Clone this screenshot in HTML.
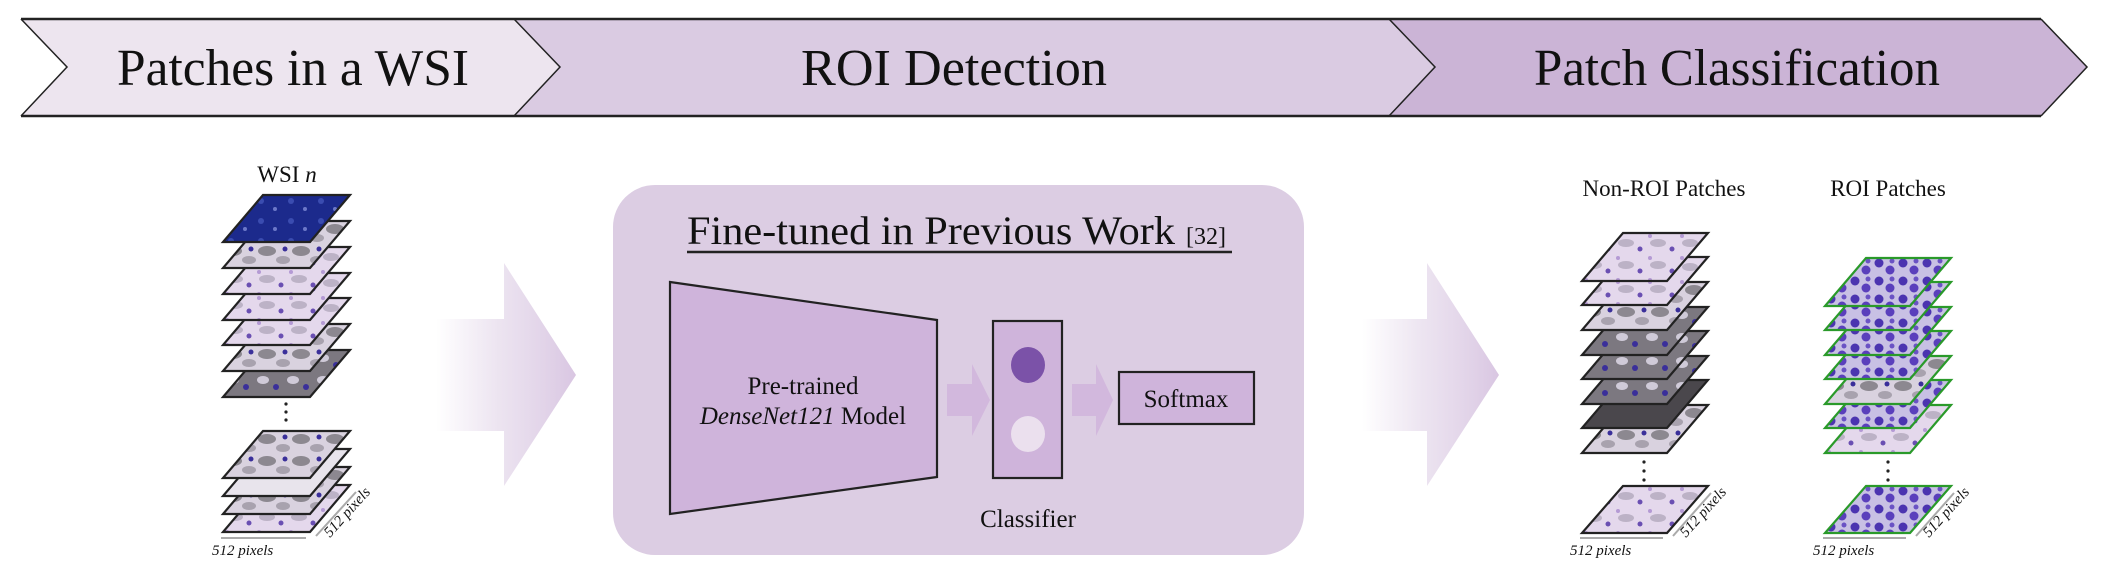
<!DOCTYPE html>
<html><head><meta charset="utf-8"><style>
html,body{margin:0;padding:0;background:#fff;}
svg{display:block;}
text{font-family:"Liberation Serif",serif;fill:#111;}
</style></head><body>
<svg width="2112" height="582" viewBox="0 0 2112 582" xmlns="http://www.w3.org/2000/svg">
<defs>
<linearGradient id="ga" x1="0" x2="1" y1="0" y2="0">
<stop offset="0" stop-color="#e4d8ea" stop-opacity="0"/><stop offset="0.45" stop-color="#e4d8ea" stop-opacity="0.7"/><stop offset="1" stop-color="#d9c6e2"/></linearGradient>
<pattern id="pb" patternUnits="userSpaceOnUse" width="30" height="20"><rect width="30" height="20" fill="#1c2a8c"/><circle cx="8" cy="6" r="3" fill="#3a4cb0"/><circle cx="22" cy="14" r="2" fill="#6c78c8"/></pattern>
<pattern id="pg" patternUnits="userSpaceOnUse" width="34" height="22"><rect width="34" height="22" fill="#d9d2df"/><ellipse cx="10" cy="8" rx="9" ry="5" fill="#8c8890"/><ellipse cx="26" cy="17" rx="7" ry="4" fill="#a8a2ae"/><circle cx="28" cy="6" r="2.5" fill="#3a2f9a"/></pattern>
<pattern id="pl" patternUnits="userSpaceOnUse" width="32" height="22"><rect width="32" height="22" fill="#e4d8ec"/><ellipse cx="12" cy="10" rx="8" ry="4" fill="#bcb2c6"/><circle cx="26" cy="16" r="2.5" fill="#6a4fb2"/><circle cx="4" cy="3" r="2" fill="#b49ad4"/></pattern>
<pattern id="pd" patternUnits="userSpaceOnUse" width="30" height="22"><rect width="30" height="22" fill="#7c7880"/><ellipse cx="10" cy="8" rx="6" ry="4" fill="#cfcad8"/><circle cx="23" cy="15" r="3" fill="#3a2f9a"/></pattern>
<pattern id="pr" patternUnits="userSpaceOnUse" width="24" height="18"><rect width="24" height="18" fill="#c8c0e4"/><circle cx="6" cy="5" r="4.5" fill="#4b34b0"/><circle cx="17" cy="12" r="4.5" fill="#5a3fbc"/><circle cx="19" cy="3" r="2.5" fill="#6a52c4"/></pattern>
</defs>

<!-- banner -->
<polygon points="21,19 514,19 560,67 514,116 21,116 67,67" fill="#ede5ef"/>
<polygon points="514,19 1389,19 1435,67 1389,116 514,116 560,67" fill="#dacbe2"/>
<polygon points="1389,19 2041,19 2087,67 2041,116 1389,116 1435,67" fill="#cbb4d6"/>
<line x1="21" y1="19" x2="2041" y2="19" stroke="#222" stroke-width="2.5"/>
<line x1="21" y1="116" x2="2041" y2="116" stroke="#222" stroke-width="2.5"/>
<polyline points="21,19 67,67 21,116" fill="none" stroke="#222" stroke-width="1.5"/>
<polyline points="514,19 560,67 514,116" fill="none" stroke="#222" stroke-width="1.5"/>
<polyline points="1389,19 1435,67 1389,116" fill="none" stroke="#222" stroke-width="1.5"/>
<polyline points="2041,19 2087,67 2041,116" fill="none" stroke="#222" stroke-width="1.5"/>
<text x="117" y="85" font-size="52" textLength="352" lengthAdjust="spacingAndGlyphs">Patches in a WSI</text>
<text x="801" y="85" font-size="52" textLength="306" lengthAdjust="spacingAndGlyphs">ROI Detection</text>
<text x="1534" y="85" font-size="52" textLength="406" lengthAdjust="spacingAndGlyphs">Patch Classification</text>

<!-- WSI stack -->
<text x="287" y="182" font-size="23" text-anchor="middle">WSI <tspan font-style="italic">n</tspan></text>
<g stroke="#222" stroke-width="2.2">
<polygon transform="translate(223,350)" points="40,0 127,0 87,47 0,47" fill="url(#pd)"/>
<polygon transform="translate(223,324)" points="40,0 127,0 87,47 0,47" fill="url(#pg)"/>
<polygon transform="translate(223,298)" points="40,0 127,0 87,47 0,47" fill="url(#pl)"/>
<polygon transform="translate(223,273)" points="40,0 127,0 87,47 0,47" fill="url(#pl)"/>
<polygon transform="translate(223,247)" points="40,0 127,0 87,47 0,47" fill="url(#pl)"/>
<polygon transform="translate(223,221)" points="40,0 127,0 87,47 0,47" fill="url(#pg)"/>
<polygon transform="translate(223,195)" points="40,0 127,0 87,47 0,47" fill="url(#pb)"/>
<polygon transform="translate(223,485)" points="40,0 127,0 87,47 0,47" fill="url(#pl)"/>
<polygon transform="translate(223,467)" points="40,0 127,0 87,47 0,47" fill="url(#pg)"/>
<polygon transform="translate(223,449)" points="40,0 127,0 87,47 0,47" fill="#e8e4ec"/>
<polygon transform="translate(223,431)" points="40,0 127,0 87,47 0,47" fill="url(#pg)"/>
</g>
<g fill="#222"><circle cx="286" cy="404" r="1.6"/><circle cx="286" cy="412" r="1.6"/><circle cx="286" cy="420" r="1.6"/></g>
<line x1="221" y1="538" x2="306" y2="538" stroke="#aaa" stroke-width="2"/>
<line x1="316" y1="536" x2="356" y2="492" stroke="#aaa" stroke-width="2"/>
<text x="212" y="555" font-size="15" font-style="italic">512 pixels</text>
<text transform="translate(330,538) rotate(-48)" font-size="15" font-style="italic">512 pixels</text>

<!-- arrows -->
<polygon points="436,319 504,319 504,263 576,375 504,486 504,431 436,431" fill="url(#ga)"/>
<polygon points="1362,319 1427,319 1427,263 1499,375 1427,486 1427,431 1362,431" fill="url(#ga)"/>

<!-- center box -->
<rect x="613" y="185" width="691" height="370" rx="42" fill="#dccde3"/>
<text x="687" y="244" font-size="40" textLength="488" lengthAdjust="spacingAndGlyphs">Fine-tuned in Previous Work</text>
<text x="1186" y="244" font-size="24">[32]</text>
<line x1="687" y1="252" x2="1232" y2="252" stroke="#222" stroke-width="2.5"/>
<polygon points="670,282 937,320 937,477 670,514" fill="#cfb4db" stroke="#222" stroke-width="2.2"/>
<text x="803" y="394" font-size="25" text-anchor="middle">Pre-trained</text>
<text x="803" y="424" font-size="25" text-anchor="middle"><tspan font-style="italic">DenseNet121</tspan> Model</text>
<polygon points="947,384 972,384 972,364 990,400 972,436 972,416 947,416" fill="#d2b8dd"/>
<polygon points="1072,384 1096,384 1096,364 1113,400 1096,436 1096,416 1072,416" fill="#d2b8dd"/>
<rect x="993" y="321" width="69" height="157" fill="#cfb4db" stroke="#222" stroke-width="2.2"/>
<ellipse cx="1028" cy="365" rx="17" ry="18" fill="#7b52a8"/>
<ellipse cx="1028" cy="434" rx="17" ry="18" fill="#ebe0ee"/>
<rect x="1119" y="372" width="135" height="52" fill="#cfb4db" stroke="#222" stroke-width="2.2"/>
<text x="1186" y="407" font-size="25" text-anchor="middle">Softmax</text>
<text x="1028" y="527" font-size="25" text-anchor="middle">Classifier</text>

<!-- right labels -->
<text x="1664" y="196" font-size="23" text-anchor="middle">Non-ROI Patches</text>
<text x="1888" y="196" font-size="23" text-anchor="middle">ROI Patches</text>

<!-- Non-ROI stack -->
<g stroke="#222" stroke-width="2.2">
<polygon transform="translate(1582,405)" points="41,0 126,0 85,48 0,48" fill="url(#pg)"/>
<polygon transform="translate(1582,380)" points="41,0 126,0 85,48 0,48" fill="#4a474c"/>
<polygon transform="translate(1582,356)" points="41,0 126,0 85,48 0,48" fill="url(#pd)"/>
<polygon transform="translate(1582,331)" points="41,0 126,0 85,48 0,48" fill="url(#pd)"/>
<polygon transform="translate(1582,307)" points="41,0 126,0 85,48 0,48" fill="url(#pd)"/>
<polygon transform="translate(1582,282)" points="41,0 126,0 85,48 0,48" fill="url(#pg)"/>
<polygon transform="translate(1582,257)" points="41,0 126,0 85,48 0,48" fill="url(#pl)"/>
<polygon transform="translate(1582,233)" points="41,0 126,0 85,48 0,48" fill="url(#pl)"/>
<polygon transform="translate(1582,486)" points="41,0 126,0 85,47 0,47" fill="url(#pl)"/>
</g>
<g fill="#222"><circle cx="1644" cy="462" r="1.6"/><circle cx="1644" cy="471" r="1.6"/><circle cx="1644" cy="480" r="1.6"/></g>
<line x1="1580" y1="538" x2="1663" y2="538" stroke="#aaa" stroke-width="2"/>
<line x1="1673" y1="536" x2="1711" y2="493" stroke="#aaa" stroke-width="2"/>
<text x="1570" y="555" font-size="15" font-style="italic">512 pixels</text>
<text transform="translate(1686,538) rotate(-48)" font-size="15" font-style="italic">512 pixels</text>

<!-- ROI stack -->
<g stroke="#2a9a2a" stroke-width="2.2">
<polygon transform="translate(1825,405)" points="41,0 126,0 85,48 0,48" fill="url(#pl)"/>
<polygon transform="translate(1825,380)" points="41,0 126,0 85,48 0,48" fill="url(#pr)"/>
<polygon transform="translate(1825,356)" points="41,0 126,0 85,48 0,48" fill="url(#pg)"/>
<polygon transform="translate(1825,331)" points="41,0 126,0 85,48 0,48" fill="url(#pr)"/>
<polygon transform="translate(1825,307)" points="41,0 126,0 85,48 0,48" fill="url(#pr)"/>
<polygon transform="translate(1825,282)" points="41,0 126,0 85,48 0,48" fill="url(#pr)"/>
<polygon transform="translate(1825,258)" points="41,0 126,0 85,48 0,48" fill="url(#pr)"/>
<polygon transform="translate(1825,486)" points="41,0 126,0 85,47 0,47" fill="url(#pr)"/>
</g>
<g fill="#222"><circle cx="1888" cy="462" r="1.6"/><circle cx="1888" cy="471" r="1.6"/><circle cx="1888" cy="480" r="1.6"/></g>
<line x1="1823" y1="538" x2="1906" y2="538" stroke="#aaa" stroke-width="2"/>
<line x1="1916" y1="536" x2="1954" y2="493" stroke="#aaa" stroke-width="2"/>
<text x="1813" y="555" font-size="15" font-style="italic">512 pixels</text>
<text transform="translate(1929,538) rotate(-48)" font-size="15" font-style="italic">512 pixels</text>
</svg>
</body></html>
